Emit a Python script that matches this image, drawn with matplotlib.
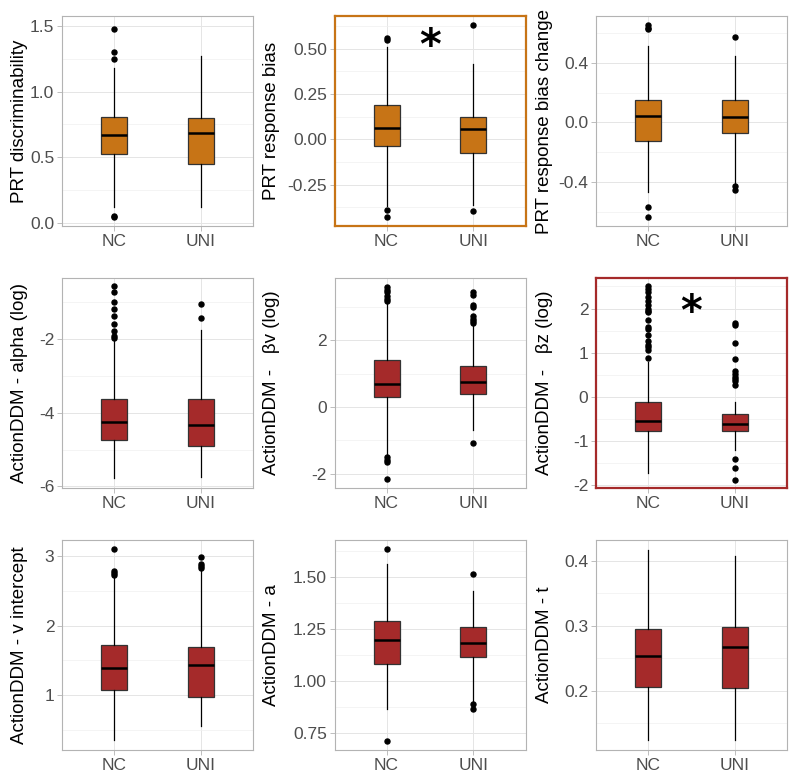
import numpy as np, matplotlib; matplotlib.use('Agg')
import matplotlib.pyplot as plt

plt.rcParams['font.family'] = ['Liberation Sans', 'DejaVu Sans']

groups = ['NC', 'UNI']
ylabels = ['PRT discriminability', 'PRT response bias', 'PRT response bias change',
           'ActionDDM - alpha (log)', 'ActionDDM -   \u03b2v (log)', 'ActionDDM -   \u03b2z (log)',
           'ActionDDM - v intercept', 'ActionDDM - a', 'ActionDDM - t']

# box stats, NC then UNI
nc_low  = [0.12, -0.37, -0.47, -5.77, -1.43, -1.72, 0.36, 0.862, 0.125]
nc_q1   = [0.526, -0.037, -0.124, -4.73, 0.29, -0.76, 1.07, 1.081, 0.206]
nc_med  = [0.669, 0.065, 0.040, -4.25, 0.69, -0.55, 1.39, 1.197, 0.253]
nc_q3   = [0.809, 0.189, 0.153, -3.62, 1.42, -0.12, 1.72, 1.289, 0.296]
nc_high = [1.177, 0.509, 0.512, -2.02, 3.12, 0.80, 2.69, 1.563, 0.417]
nc_out  = [[1.48, 1.30, 1.246, 0.05, 0.042],
           [0.559, 0.548, -0.389, -0.43],
           [0.652, 0.636, 0.629, -0.571, -0.638],
           [-0.564, -0.709, -0.982, -1.18, -1.364, -1.59, -1.79, -1.91, -1.96],
           [3.60, 3.52, 3.44, 3.34, 3.24, 3.17, -1.50, -1.58, -1.66, -2.15],
           [2.50, 2.45, 2.38, 2.25, 2.17, 2.09, 2.00, 1.94, 1.91, 1.75, 1.59, 1.53,
            1.39, 1.26, 1.18, 1.13, 1.07, 0.88],
           [3.096, 2.79, 2.76, 2.73],
           [1.635, 0.711],
           []]

uni_low  = [0.12, -0.361, -0.409, -5.75, -0.68, -1.21, 0.565, 0.902, 0.125]
uni_q1   = [0.45, -0.076, -0.072, -4.89, 0.40, -0.77, 0.97, 1.116, 0.204]
uni_med  = [0.684, 0.059, 0.036, -4.33, 0.75, -0.61, 1.44, 1.184, 0.268]
uni_q3   = [0.798, 0.126, 0.153, -3.62, 1.23, -0.39, 1.70, 1.258, 0.298]
uni_high = [1.271, 0.417, 0.449, -1.745, 2.47, -0.106, 2.78, 1.436, 0.408]
uni_out  = [[],
            [0.633, -0.393],
            [0.573, -0.425, -0.454],
            [-1.045, -1.436],
            [3.44, 3.37, 3.07, 3.00, 2.72, 2.64, 2.57, 2.52, -1.08],
            [1.68, 1.62, 1.22, 0.86, 0.58, 0.52, 0.46, 0.41, 0.35, 0.26, -1.40, -1.60, -1.87],
            [2.99, 2.89, 2.86, 2.83],
            [1.516, 0.887, 0.862],
            []]

ylims = [(-0.023, 1.576), (-0.478, 0.681), (-0.697, 0.715), (-6.045, -0.336), (-2.43, 3.87),
         (-2.06, 2.69), (0.215, 3.23), (0.666, 1.68), (0.109, 0.4323)]
yticks = [[0, 0.5, 1.0, 1.5], [-0.25, 0, 0.25, 0.5], [-0.4, 0, 0.4], [-6, -4, -2], [-2, 0, 2],
          [-2, -1, 0, 1, 2], [1, 2, 3], [0.75, 1.0, 1.25, 1.5], [0.2, 0.3, 0.4]]
yticklabels = [['0.0', '0.5', '1.0', '1.5'], ['-0.25', '0.00', '0.25', '0.50'], ['-0.4', '0.0', '0.4'],
               ['-6', '-4', '-2'], ['-2', '0', '2'], ['-2', '-1', '0', '1', '2'], ['1', '2', '3'],
               ['0.75', '1.00', '1.25', '1.50'], ['0.2', '0.3', '0.4']]
sig_star = [None, 0.51, None, None, None, 1.90, None, None, None]

ORANGE = '#C77416'; RED = '#A52A2A'
fills = [ORANGE] * 3 + [RED] * 6

W, H = 800, 781
fig = plt.figure(figsize=(W / 100, H / 100), dpi=100)
lefts = [62, 334.5, 596]; tops = [16, 278, 540]
pw, ph = 191, 210
lab_x = [-0.178, -0.285, -0.225]

for i in range(9):
    r, c = divmod(i, 3)
    ax = fig.add_axes([lefts[c] / W, 1 - (tops[r] + ph) / H, pw / W, ph / H])
    stats = []
    for lo, q1, md, q3, hi, fl in [(nc_low[i], nc_q1[i], nc_med[i], nc_q3[i], nc_high[i], nc_out[i]),
                                   (uni_low[i], uni_q1[i], uni_med[i], uni_q3[i], uni_high[i], uni_out[i])]:
        stats.append(dict(whislo=lo, q1=q1, med=md, q3=q3, whishi=hi, fliers=np.array(fl)))
    bp = ax.bxp(stats, positions=[1, 2], widths=0.3, patch_artist=True, showcaps=False,
                boxprops=dict(facecolor=fills[i], edgecolor='#333333', lw=0.9),
                whiskerprops=dict(color='black', lw=0.9),
                medianprops=dict(color='black', lw=1.8),
                flierprops=dict(marker='o', markerfacecolor='black', markeredgecolor='black',
                                markersize=3.6, lw=0))
    ax.set_xlim(0.4, 2.6)
    ax.set_ylim(*ylims[i])
    ax.set_xticks([1, 2]); ax.set_xticklabels(groups, fontsize=12.5, color='#4D4D4D')
    ax.set_yticks(yticks[i]); ax.set_yticklabels(yticklabels[i], fontsize=12.5, color='#4D4D4D')
    t = yticks[i]; step = t[1] - t[0]
    minor = np.arange(t[0] - step / 2, ylims[i][1], step)
    ax.set_yticks(minor[(minor > ylims[i][0])], minor=True)
    ax.tick_params(axis='both', which='major', length=3.5, width=0.6, color='#B3B3B3', pad=2)
    ax.tick_params(axis='y', which='minor', length=0)
    ax.grid(which='major', color='#E5E5E5', lw=0.7)
    ax.grid(which='minor', axis='y', color='#F0F0F0', lw=0.5)
    ax.set_axisbelow(True)
    ax.set_ylabel(ylabels[i], fontsize=13.5, color='black')
    ax.yaxis.set_label_coords(lab_x[c], 0.5)
    if sig_star[i] is not None:
        for s in ax.spines.values():
            s.set_color(fills[i]); s.set_linewidth(1.6)
        ax.text(1.5, sig_star[i], '*', fontsize=30, fontweight='bold', ha='center', va='center',
                family='DejaVu Sans')
    else:
        for s in ax.spines.values():
            s.set_color('#B3B3B3'); s.set_linewidth(0.8)

fig.savefig('out.png', dpi=100)
